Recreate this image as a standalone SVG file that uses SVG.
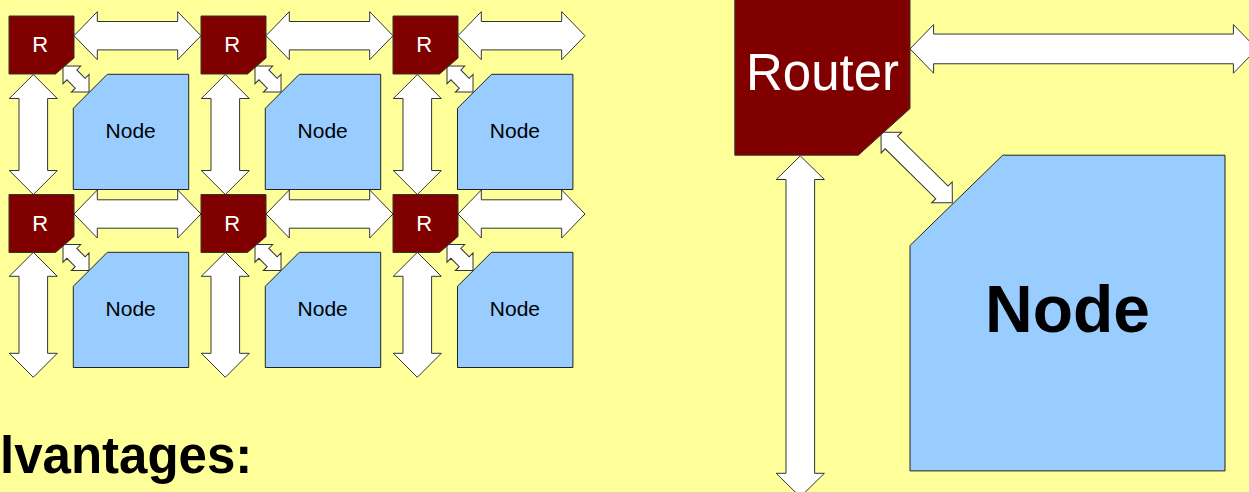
<svg xmlns="http://www.w3.org/2000/svg" width="1249" height="492" viewBox="0 0 1249 492">
<style>
.bg{fill:#FFFF99}
.router{fill:#800000;stroke:#333;stroke-width:1}
.node{fill:#99CCFF;stroke:#222;stroke-width:1}
.arrow{fill:#fff;stroke:#333;stroke-width:1;stroke-linejoin:miter}
.rt{font-family:"Liberation Sans",Arial,sans-serif;fill:#fff;text-anchor:middle}
.nt{font-family:"Liberation Sans",Arial,sans-serif;fill:#000;text-anchor:middle}
.title{font-family:"Liberation Sans",Arial,sans-serif;font-weight:bold;fill:#000;font-size:51px}
</style>
<defs>
<path id="ha" d="M0,0 L23.3,-24 L23.3,-14.2 L103.7,-14.2 L103.7,-24 L127,0 L103.7,24 L103.7,14.2 L23.3,14.2 L23.3,24 Z"/>
<path id="va1" d="M0,0 L24,24 L14.3,24 L14.3,96 L24,96 L0,120 L-24,96 L-14.3,96 L-14.3,24 L-24,24 Z"/>
<path id="va2" d="M0,0 L24,24 L14.3,24 L14.3,101 L24,101 L0,125 L-24,101 L-14.3,101 L-14.3,24 L-24,24 Z"/>
<path id="da" d="M0,0 L12.5,-12.5 L12.5,-7 L24.3,-7 L24.3,-12.5 L36.8,0 L24.3,12.5 L24.3,7 L12.5,7 L12.5,12.5 Z"/>
<polygon id="rshape" points="0,0 65,0 65,42 46.5,58 0,58"/>
<polygon id="nshape" points="34,0 115.4,0 115.4,115.2 0,115.2 0,34"/>
</defs>
<rect class="bg" x="0" y="0" width="1249" height="492"/>

<g id="connectors" class="arrow">
  <use href="#ha" transform="translate(74,35.7)"/>
  <use href="#ha" transform="translate(266,35.7)"/>
  <use href="#ha" transform="translate(458,35.7)"/>
  <use href="#ha" transform="translate(74,214)"/>
  <use href="#ha" transform="translate(266,214)"/>
  <use href="#ha" transform="translate(458,214)"/>
  <use href="#va1" transform="translate(33.3,74.5)"/>
  <use href="#va1" transform="translate(225.3,74.5)"/>
  <use href="#va1" transform="translate(417.3,74.5)"/>
  <use href="#va2" transform="translate(33.3,252.3)"/>
  <use href="#va2" transform="translate(225.3,252.3)"/>
  <use href="#va2" transform="translate(417.3,252.3)"/>
  <use href="#da" transform="translate(63,66) rotate(45)"/>
  <use href="#da" transform="translate(255,66) rotate(45)"/>
  <use href="#da" transform="translate(447,66) rotate(45)"/>
  <use href="#da" transform="translate(63,244.5) rotate(45)"/>
  <use href="#da" transform="translate(255,244.5) rotate(45)"/>
  <use href="#da" transform="translate(447,244.5) rotate(45)"/>
  <path d="M910,48.9 L933.6,24.6 L933.6,34.05 L1233.4,34.05 L1233.4,24.6 L1257,48.9 L1233.4,73.2 L1233.4,63.75 L933.6,63.75 L933.6,73.2 Z"/>
  <path d="M800.3,155.9 L824.4,179.5 L814.6,179.5 L814.6,473.3 L824.4,473.3 L800.3,497 L776.2,473.3 L786,473.3 L786,179.5 L776.2,179.5 Z"/>
  <path transform="translate(881,132.3) rotate(44.6)" d="M0,0 L14.6,-14.6 L14.6,-8.8 L85.6,-8.8 L85.6,-14.6 L100.2,0 L85.6,14.6 L85.6,8.8 L14.6,8.8 L14.6,14.6 Z"/>
</g>

<g id="r11" transform="translate(9,16)"><use href="#rshape" class="router"/><text class="rt" x="31.3" y="36.3" font-size="22">R</text></g>
<g id="r12" transform="translate(201,16)"><use href="#rshape" class="router"/><text class="rt" x="31.3" y="36.3" font-size="22">R</text></g>
<g id="r13" transform="translate(393,16)"><use href="#rshape" class="router"/><text class="rt" x="31.3" y="36.3" font-size="22">R</text></g>
<g id="r21" transform="translate(9,194.5)"><use href="#rshape" class="router"/><text class="rt" x="31.3" y="36.3" font-size="22">R</text></g>
<g id="r22" transform="translate(201,194.5)"><use href="#rshape" class="router"/><text class="rt" x="31.3" y="36.3" font-size="22">R</text></g>
<g id="r23" transform="translate(393,194.5)"><use href="#rshape" class="router"/><text class="rt" x="31.3" y="36.3" font-size="22">R</text></g>

<g id="n11" transform="translate(73.3,74.3)"><use href="#nshape" class="node"/><text class="nt" x="57.4" y="63.4" font-size="21">Node</text></g>
<g id="n12" transform="translate(265.3,74.3)"><use href="#nshape" class="node"/><text class="nt" x="57.4" y="63.4" font-size="21">Node</text></g>
<g id="n13" transform="translate(457.5,74.3)"><use href="#nshape" class="node"/><text class="nt" x="57.4" y="63.4" font-size="21">Node</text></g>
<g id="n21" transform="translate(73.3,252.3)"><use href="#nshape" class="node"/><text class="nt" x="57.4" y="63.4" font-size="21">Node</text></g>
<g id="n22" transform="translate(265.3,252.3)"><use href="#nshape" class="node"/><text class="nt" x="57.4" y="63.4" font-size="21">Node</text></g>
<g id="n23" transform="translate(457.5,252.3)"><use href="#nshape" class="node"/><text class="nt" x="57.4" y="63.4" font-size="21">Node</text></g>

<g id="bigRouter">
  <polygon class="router" points="734.8,-1 910,-1 910,108.6 858.3,155.2 734.8,155.2"/>
  <text class="rt" x="822.5" y="90.4" font-size="51">Router</text>
</g>
<g id="bigNode">
  <polygon class="node" points="1002.7,155.2 1225,155.2 1225,470.9 910,470.9 910,245.5"/>
  <text class="nt" x="1067.5" y="331.6" font-size="66" font-weight="bold">Node</text>
</g>

<text class="title" x="0" y="472.7">lvantages:</text>
</svg>
